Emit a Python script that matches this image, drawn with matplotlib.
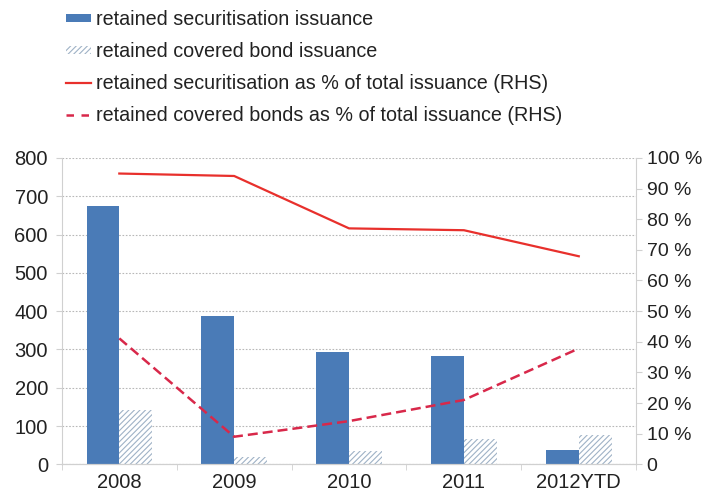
import numpy as np
import matplotlib.pyplot as plt
from matplotlib.patches import Patch
from matplotlib.lines import Line2D

plt.rcParams['font.family'] = ['Liberation Sans', 'DejaVu Sans']
plt.rcParams['hatch.linewidth'] = 0.8

# ---------------- data ----------------
years = ['2008', '2009', '2010', '2011', '2012YTD']
securitisation = [674, 387, 292, 283, 37]
covered_bond = [143, 20, 35, 65, 76]
sec_pct = [94.9, 94.1, 77.0, 76.4, 67.9]
cb_pct = [41.1, 9.0, 14.1, 21.0, 37.8]

blue = '#4a7bb7'
hatch_col = '#9fb2c6'
red = '#e8302c'
red_dash = '#d8284a'
axis_col = '#d0d0d0'
text_col = '#222222'

x = np.arange(len(years))
w = 0.285

fig = plt.figure(figsize=(7.03, 4.95), dpi=100)
ax = fig.add_axes([0.088, 0.062, 0.817, 0.619])
ax2 = ax.twinx()

ax.bar(x - w/2, securitisation, width=w, color=blue, linewidth=0, zorder=2)
ax.bar(x + w/2, covered_bond, width=w, color='white', edgecolor=hatch_col,
       hatch='//////', linewidth=0, zorder=2)

ax2.plot(x, sec_pct, color=red, lw=1.6, zorder=3)
ax2.plot(x, cb_pct, color=red_dash, lw=1.8, dashes=(4, 2), zorder=3)

ax.set_xlim(-0.5, len(years) - 0.5)
ax.set_ylim(0, 800)
ax2.set_ylim(0, 100)
ax.set_yticks(range(0, 801, 100))
ax2.set_yticks(range(0, 101, 10))
ax2.set_yticklabels(['0'] + ['%d %%' % v for v in range(10, 101, 10)])

ax.set_xticks(x)
ax.set_xticklabels(years)
ax.set_xticks(np.arange(-0.5, len(years), 1.0), minor=True)
ax.tick_params(axis='x', which='major', length=0, pad=6, labelsize=14.5, colors=text_col)
ax.tick_params(axis='x', which='minor', length=4, color=axis_col)
ax.tick_params(axis='y', length=4, color=axis_col, labelsize=14.5, labelcolor=text_col, pad=6)
ax2.tick_params(axis='y', length=4, color=axis_col, labelsize=14, labelcolor=text_col, pad=3.5)

ax.yaxis.grid(True, linestyle=(0, (1.5, 1.5)), color='#b8b8b8', lw=0.8)
ax.set_axisbelow(True)

for a in (ax, ax2):
    a.spines['top'].set_visible(False)
    for s in ('left', 'right', 'bottom'):
        a.spines[s].set_color(axis_col)
ax2.spines['left'].set_visible(False)
ax.spines['right'].set_visible(False)

handles = [
    Patch(facecolor=blue, edgecolor='none'),
    Patch(facecolor='white', edgecolor=hatch_col, hatch='//////', linewidth=0),
    Line2D([], [], color=red, lw=1.6),
    Line2D([], [], color=red_dash, lw=1.8, dashes=(3, 3)),
]
labels = ['retained securitisation issuance',
          'retained covered bond issuance',
          'retained securitisation as % of total issuance (RHS)',
          'retained covered bonds as % of total issuance (RHS)']
leg = fig.legend(handles, labels, loc='upper left', bbox_to_anchor=(0.069, 1.016),
                 frameon=False, fontsize=14.2, handlelength=1.27, handleheight=0.25,
                 handletextpad=0.25, labelspacing=0.66)
for t in leg.get_texts():
    t.set_color(text_col)

fig.savefig('out.png', dpi=100)
